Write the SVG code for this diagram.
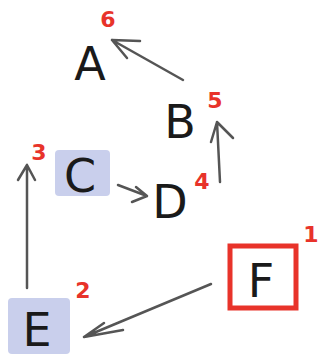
<svg xmlns="http://www.w3.org/2000/svg" width="322" height="358" viewBox="0 0 322 358">
<style>
.lbl{font-family:"DejaVu Sans",sans-serif;font-size:46px;fill:#1a1a1a;text-anchor:middle}
.num{font-family:"DejaVu Sans",sans-serif;font-weight:bold;font-size:22px;fill:#e8332a;text-anchor:middle}
.edge{stroke:#555;stroke-width:2.5;fill:none;stroke-linecap:round;stroke-linejoin:round}
.hl{fill:#c9cfec}
</style>
<rect width="322" height="358" fill="#fff"/>
<g id="A"><text class="lbl" x="90" y="80">A</text><text class="num" x="108" y="27">6</text></g>
<g id="B"><text class="lbl" x="180" y="138">B</text><text class="num" x="215" y="108">5</text></g>
<g id="C"><rect class="hl" x="55" y="150" width="55" height="46" rx="4"/><text class="lbl" x="80" y="192">C</text><text class="num" x="39" y="160">3</text></g>
<g id="D"><text class="lbl" x="170" y="218">D</text><text class="num" x="202" y="189">4</text></g>
<g id="E"><rect class="hl" x="8" y="298" width="62" height="56" rx="4"/><text class="lbl" x="37" y="346">E</text><text class="num" x="83" y="298">2</text></g>
<g id="F"><rect x="230" y="246" width="66" height="62" fill="none" stroke="#e8332a" stroke-width="5"/><text class="lbl" x="261" y="297">F</text><text class="num" x="311" y="242">1</text></g>
<g id="connectors">
<path class="edge" d="M183 80 L112 40 M112 40 L140 41 M112 40 L127 58"/>
<path class="edge" d="M220 182 L217 122 M217 122 L211 142 M217 122 L233 138"/>
<path class="edge" d="M27 288 L27 165 M27 165 L18 180 M27 165 L35 180"/>
<path class="edge" d="M118 185 L147 196 M147 196 L132 202 M147 196 L136 187"/>
<path class="edge" d="M211 284 L84 337 M84 337 L104 323 M84 337 L123 330"/>
</g>
</svg>
